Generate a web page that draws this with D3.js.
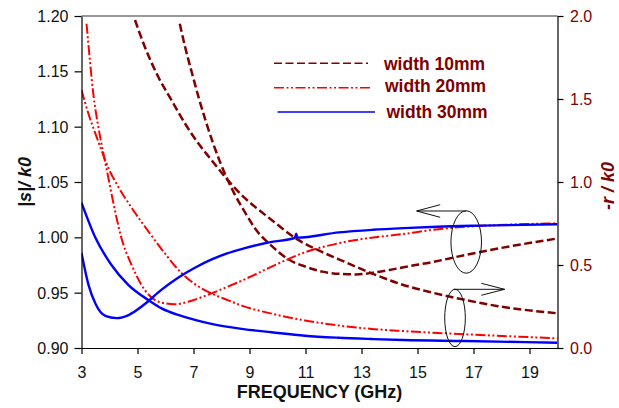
<!DOCTYPE html>
<html><head><meta charset="utf-8">
<script src="https://cdn.jsdelivr.net/npm/d3@7"></script>
<style>body{margin:0;background:#fff}svg{display:block}</style>
</head><body><svg id="c" width="619" height="408"></svg>
<script>
// ---------- data ----------
const xTicks = [3, 5, 7, 9, 11, 13, 15, 17, 19];
const yLeftTicks = [0.90, 0.95, 1.00, 1.05, 1.10, 1.15, 1.20];
const yRightTicks = [0.0, 0.5, 1.0, 1.5, 2.0];
const legendLabels = ["width 10mm", "width 20mm", "width 30mm"];

// |s|/k0 (left axis)
const sFreq10 = [6.51, 6.7, 6.95, 7.2, 7.45, 7.7, 7.95, 8.2, 8.45, 8.9, 9.2, 9.8, 10.4, 11.0, 11.6, 12.2, 12.8, 13.4, 14.0, 14.5, 15.5, 16.7, 17.9, 20];
const sVal10  = [1.193, 1.172, 1.148, 1.125, 1.104, 1.085, 1.068, 1.053, 1.040, 1.020, 1.008, 0.992, 0.980, 0.9735, 0.969, 0.967, 0.9665, 0.968, 0.9705, 0.973, 0.9775, 0.984, 0.990, 0.999];

const sFreq20 = [3.18, 3.30, 3.42, 3.6, 3.78, 3.95, 4.13, 4.43, 4.79, 5.26, 5.62, 5.98, 6.34, 6.81, 7.64, 8.78, 9.79, 10.98, 12.17, 13.36, 14.49, 15.5, 16.69, 17.88, 20];
const sVal20  = [1.193, 1.160, 1.130, 1.100, 1.076, 1.055, 1.032, 0.999, 0.975, 0.9524, 0.9434, 0.9404, 0.9395, 0.9418, 0.9494, 0.9615, 0.9735, 0.9865, 0.9946, 0.9997, 1.003, 1.0066, 1.0096, 1.0111, 1.0127];

const sFreq30 = [3, 3.25, 3.5, 3.85, 4.25, 4.7, 5.25, 5.85, 6.45, 7.05, 7.65, 8.2, 8.8, 9.7, 10.62, 10.67, 10.71, 12.2, 13.4, 14.5, 15.7, 17.3, 20];
const sVal30  = [0.986, 0.957, 0.940, 0.929, 0.927, 0.930, 0.9395, 0.9525, 0.9635, 0.9725, 0.980, 0.9855, 0.990, 0.9955, 0.9995, 1.0032, 0.9997, 1.0045, 1.0068, 1.0083, 1.0096, 1.0106, 1.0118];

// -r/k0 (right axis)
const rFreq10 = [4.91, 5.26, 5.74, 6.21, 6.69, 7.17, 7.64, 8.12, 8.6, 9.8, 10.74, 11.57, 12.17, 13.36, 14.4, 15.5, 16.69, 17.88, 20];
const rVal10  = [1.976, 1.815, 1.634, 1.494, 1.354, 1.233, 1.133, 1.032, 0.942, 0.77, 0.651, 0.580, 0.536, 0.450, 0.385, 0.335, 0.290, 0.252, 0.209];

const rFreq20 = [3, 3.25, 3.5, 3.75, 4.0, 4.3, 4.8, 5.4, 6.0, 6.55, 7.05, 7.64, 8.24, 8.78, 9.79, 10.98, 12.17, 13.36, 14.49, 16.69, 20];
const rVal20  = [1.554, 1.41, 1.29, 1.175, 1.07, 0.975, 0.842, 0.70, 0.565, 0.455, 0.385, 0.329, 0.287, 0.252, 0.207, 0.166, 0.136, 0.115, 0.102, 0.083, 0.058];

const rFreq30 = [3, 3.48, 4.07, 4.67, 5.44, 5.86, 6.45, 7.05, 7.64, 8.78, 9.79, 10.98, 12.17, 13.37, 14.49, 16.69, 20];
const rVal30  = [0.875, 0.670, 0.500, 0.380, 0.283, 0.239, 0.199, 0.169, 0.145, 0.114, 0.095, 0.074, 0.062, 0.054, 0.048, 0.042, 0.032];

// ---------- layout ----------
const L = 81.5, R = 557.5, T = 16, B = 348;
const DARK = "#800000", RED = "#ff0000", BLUE = "#0000ff";
const FONT = "Arial, 'Liberation Sans', sans-serif";

const svg = d3.select("#c");
const x = d3.scaleLinear().domain([3, 20]).range([L, R]);
const yL = d3.scaleLinear().domain([0.90, 1.20]).range([B, T]);
const yR = d3.scaleLinear().domain([0, 2]).range([B, T]);

const styles = {
  d10: {color: DARK, width: 2.5, dash: "8,3.5"},
  d20: {color: RED, width: 2, dash: "10,2.5,2,2.5,2,2.5"},
  d30: {color: BLUE, width: 2.4, dash: null}
};

const series = [
  {f: rFreq10, v: rVal10, y: yR, st: styles.d10},
  {f: sFreq10, v: sVal10, y: yL, st: styles.d10},
  {f: rFreq20, v: rVal20, y: yR, st: styles.d20},
  {f: sFreq20, v: sVal20, y: yL, st: styles.d20},
  {f: rFreq30, v: rVal30, y: yR, st: styles.d30},
  {f: sFreq30, v: sVal30, y: yL, st: styles.d30}
];

svg.append("defs").append("clipPath").attr("id", "clip")
  .append("rect").attr("x", L).attr("y", T).attr("width", R - L).attr("height", B - T);

const plot = svg.append("g").attr("clip-path", "url(#clip)");
series.forEach(s => {
  const pts = s.f.map((f, i) => [f, s.v[i]]);
  const line = d3.line().x(d => x(d[0])).y(d => s.y(d[1])).curve(d3.curveMonotoneX);
  plot.append("path").attr("d", line(pts))
    .attr("fill", "none").attr("stroke", s.st.color)
    .attr("stroke-width", s.st.width)
    .attr("stroke-dasharray", s.st.dash)
    .attr("stroke-linejoin", "round");
});

// ---------- axes ----------
const gx = svg.append("g").attr("transform", `translate(0,${B})`)
  .call(d3.axisBottom(x).tickValues(xTicks).tickFormat(d3.format("d")).tickSize(6).tickSizeOuter(0));
const gl = svg.append("g").attr("transform", `translate(${L},0)`)
  .call(d3.axisLeft(yL).tickValues(yLeftTicks).tickFormat(d3.format(".2f")).tickSize(7).tickSizeOuter(0));
const gr = svg.append("g").attr("transform", `translate(${R},0)`)
  .call(d3.axisRight(yR).tickValues(yRightTicks).tickFormat(d3.format(".1f")).tickSize(6).tickSizeOuter(0));

[gx, gl, gr].forEach(g => {
  g.select(".domain").attr("stroke", "#000").attr("stroke-width", 1.2);
  g.selectAll(".tick line").attr("stroke", "#000").attr("stroke-width", 1.2);
  g.selectAll(".tick text").attr("font-family", FONT).attr("font-size", 16).attr("fill", "#111");
});
gx.selectAll(".tick text").attr("dy", null).attr("y", 29.5);
gl.selectAll(".tick text").attr("x", -13).attr("dy", "0.35em");
gr.selectAll(".tick text").attr("x", 12.5).attr("dy", "0.35em").attr("fill", DARK);

// top frame
svg.append("line").attr("x1", L).attr("x2", R).attr("y1", T).attr("y2", T)
  .attr("stroke", "#333").attr("stroke-width", 1.2);

// axis titles
svg.append("text").attr("x", x(11.5)).attr("y", 398)
  .attr("text-anchor", "middle").attr("font-family", FONT).attr("font-weight", "bold")
  .attr("font-size", 18).attr("fill", "#111").text("FREQUENCY (GHz)");

const lt = svg.append("text").attr("transform", `translate(31,${(T + B) / 2}) rotate(-90)`)
  .attr("text-anchor", "middle").attr("font-family", FONT).attr("font-weight", "bold")
  .attr("font-style", "italic").attr("font-size", 18).attr("fill", "#111");
lt.append("tspan").text("|s|/ k");
lt.append("tspan").text("0");

const rt = svg.append("text").attr("transform", `translate(614,186) rotate(-90)`)
  .attr("text-anchor", "middle").attr("font-family", FONT).attr("font-weight", "bold")
  .attr("font-style", "italic").attr("font-size", 18).attr("fill", DARK);
rt.append("tspan").text("-r / k");
rt.append("tspan").text("0");

// ---------- legend ----------
const legendStyles = [styles.d10, styles.d20, styles.d30];
const legY = [63.3, 87.7, 112];
const legX1 = [274, 274, 277.5], legX2 = [368, 371, 375];
const legTX = [384, 385, 386.5], legTY = [69.5, 92, 118];
legendLabels.forEach((lab, i) => {
  svg.append("line").attr("x1", legX1[i]).attr("x2", legX2[i]).attr("y1", legY[i]).attr("y2", legY[i])
    .attr("stroke", legendStyles[i].color).attr("stroke-width", 1.5)
    .attr("stroke-dasharray", legendStyles[i].dash);
  svg.append("text").attr("x", legTX[i]).attr("y", legTY[i])
    .attr("font-family", FONT).attr("font-weight", "bold").attr("font-size", 17.5)
    .attr("fill", DARK).text(lab);
});

// ---------- annotations (ellipses + arrows, placed in data units) ----------
const ann = svg.append("g").attr("fill", "none").attr("stroke", "#111").attr("stroke-width", 1);
const e1 = {cx: 16.74, cy: 0.9958, rx: 0.546, ry: 0.0282};
ann.append("ellipse").attr("cx", x(e1.cx)).attr("cy", yL(e1.cy))
  .attr("rx", x(e1.cx + e1.rx) - x(e1.cx)).attr("ry", yL(e1.cy) - yL(e1.cy + e1.ry));
const a1 = {y: 1.0238, from: 16.74, to: 14.97, head: 15.81, hw: 0.0057};
ann.append("path").attr("d",
  `M${x(a1.from)},${yL(a1.y)}H${x(a1.to)}M${x(a1.head)},${yL(a1.y + a1.hw)}L${x(a1.to)},${yL(a1.y)}L${x(a1.head)},${yL(a1.y - a1.hw)}`);
const e2 = {cx: 16.34, cy: 0.181, rx: 0.368, ry: 0.173};
ann.append("ellipse").attr("cx", x(e2.cx)).attr("cy", yR(e2.cy))
  .attr("rx", x(e2.cx + e2.rx) - x(e2.cx)).attr("ry", yR(e2.cy) - yR(e2.cy + e2.ry));
const a2 = {y: 0.3536, from: 16.29, to: 18.11, head: 17.28, hw: 0.036};
ann.append("path").attr("d",
  `M${x(a2.from)},${yR(a2.y)}H${x(a2.to)}M${x(a2.head)},${yR(a2.y + a2.hw)}L${x(a2.to)},${yR(a2.y)}L${x(a2.head)},${yR(a2.y - a2.hw)}`);
</script>
</body></html>
